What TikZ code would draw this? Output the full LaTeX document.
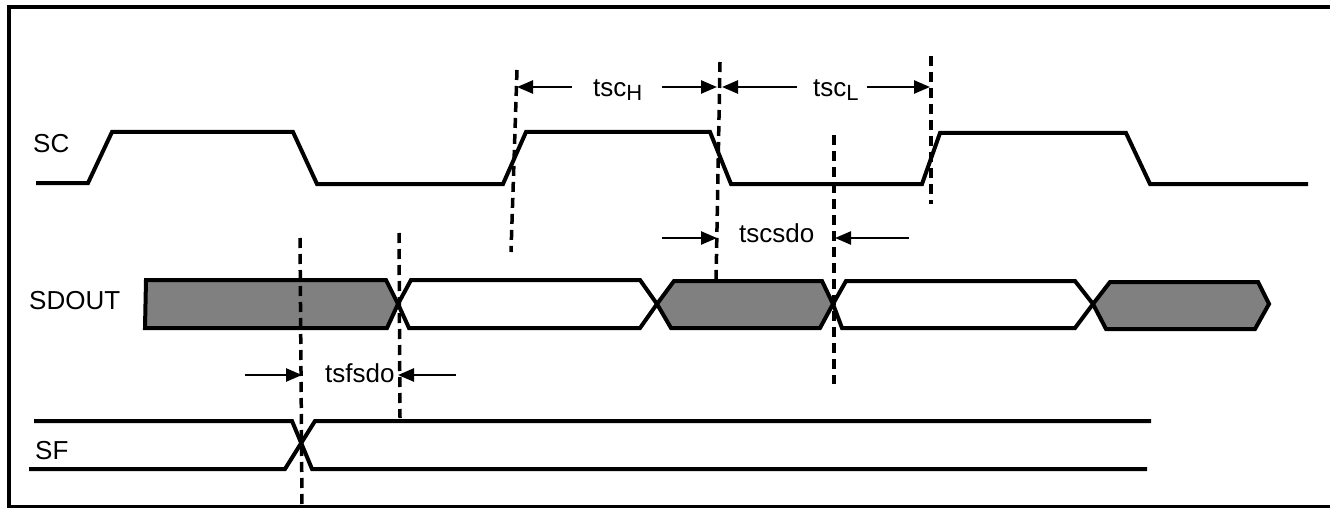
\documentclass[tikz,border=0pt]{standalone}
\usepackage{fontspec}
\setmainfont{Liberation Sans}
\usetikzlibrary{arrows.meta}

\begin{document}
\begin{tikzpicture}[x=1pt,y=-1pt,
    sig/.style={line width=4pt},
    mark line/.style={line width=3.5pt,dash pattern=on 10pt off 6pt},
    dim/.style={line width=2.5pt,-{Triangle[length=16pt,width=13pt]}},
    lbl/.style={anchor=base west,inner sep=0pt,font=\fontsize{26}{30}\selectfont}]
    \useasboundingbox (0,0) rectangle (1330,508);
    \draw[line width=4pt] (9,507) rectangle (1400,7);
    % signals
    \node[lbl] (sc) at (33,153) {SC};
    \draw[sig] (36,183) -- (88,183) -- (112,132) -- (293,132) -- (317,184) -- (503,184) -- (526,132)
        -- (710,132) -- (731,184) -- (922,184) -- (940,133) -- (1126,133) -- (1150,184) -- (1308,184);
    \node[lbl] (sdout) at (29,309) {SDOUT};
    \draw[sig,fill=gray] (146,280) -- (386,280) -- (398,304) -- (387,328) -- (145,328) -- cycle;
    \draw[sig] (398,304) -- (411,280) -- (640,280) -- (657,304) -- (640,328) -- (409,328) -- cycle;
    \draw[sig,fill=gray] (657,304) -- (674,281) -- (822,281) -- (833,304) -- (820,328) -- (671,328) -- cycle;
    \draw[sig] (833,304) -- (846,281) -- (1075,281) -- (1093,304) -- (1075,328) -- (842,328) -- cycle;
    \draw[sig,fill=gray] (1093,304) -- (1110,282) -- (1258,282) -- (1269,304) -- (1255,329) -- (1106,329) -- cycle;
    \node[lbl] (sf) at (35,459) {SF};
    \draw[sig] (34,421) -- (292,421) -- (312,469) -- (1147,469);
    \draw[sig] (29,469) -- (285,469) -- (315,421) -- (1151,421);
    % markers
    \coordinate (m1t) at (517,70);  \coordinate (m1b) at (511,252);
    \coordinate (m2t) at (720,62);  \coordinate (m2b) at (716,283);
    \coordinate (m3t) at (931,56);  \coordinate (m3b) at (931,204);
    \coordinate (m4t) at (834,135); \coordinate (m4b) at (834,384);
    \coordinate (m5t) at (300,238); \coordinate (m5b) at (302,505);
    \coordinate (m6t) at (399,233); \coordinate (m6b) at (400,418);
    \foreach \m in {m1,m2,m3,m4,m5,m6}
        \draw[mark line] (\m t) -- (\m b);
    % timing labels
    \node[lbl] (tsch) at (593,97) {tsc\raisebox{-4pt}{\fontsize{22}{22}\selectfont H}};
    \node[lbl] (tscl) at (813,97) {tsc\raisebox{-4pt}{\fontsize{22}{22}\selectfont L}};
    \node[lbl] (tscsdo) at (739,242) {tscsdo};
    \node[lbl] (tsfsdo) at (325,382) {tsfsdo};
    \coordinate (h1) at (572,87); \coordinate (h1e) at (517,87);
    \coordinate (h2) at (662,87); \coordinate (h2e) at (717,87);
    \coordinate (l1) at (797,87); \coordinate (l1e) at (722,87);
    \coordinate (l2) at (867,87); \coordinate (l2e) at (930,87);
    \coordinate (d1) at (662,238); \coordinate (d1e) at (717,238);
    \coordinate (d2) at (909,238); \coordinate (d2e) at (835,238);
    \coordinate (f1) at (245,375); \coordinate (f1e) at (302,375);
    \coordinate (f2) at (456,375); \coordinate (f2e) at (398,375);
    \foreach \a in {h1,h2,l1,l2,d1,d2,f1,f2}
        \draw[dim] (\a) -- (\a e);
\end{tikzpicture}
\end{document}
